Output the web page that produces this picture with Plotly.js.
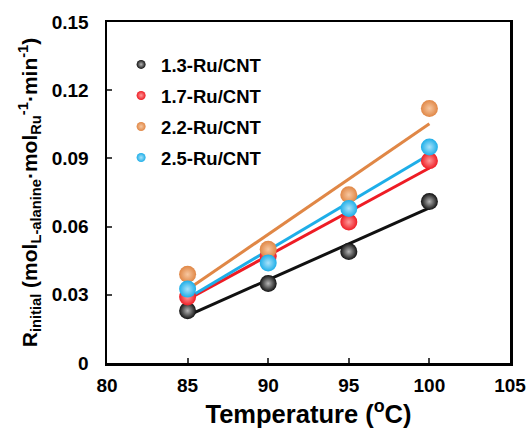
<!DOCTYPE html>
<html><head><meta charset="utf-8">
<script src="https://cdn.plot.ly/plotly-3.0.1.min.js"></script>
<style>html,body{margin:0;padding:0;background:#fff}#chart{width:531px;height:432px}</style>
</head><body><div id="chart"></div>
<script>
const temps = [85, 90, 95, 100];
const names = ["1.3-Ru/CNT", "1.7-Ru/CNT", "2.2-Ru/CNT", "2.5-Ru/CNT"];
const ru13 = [0.023, 0.035, 0.049, 0.071];
const ru17 = [0.029, 0.047, 0.062, 0.089];
const ru22 = [0.039, 0.050, 0.074, 0.112];
const ru25 = [0.0325, 0.044, 0.068, 0.095];
const fitX = [85, 100];
const fit13 = [0.0208, 0.0682];
const fit17 = [0.0280, 0.0858];
const fit22 = [0.0323, 0.1052];
const fit25 = [0.0285, 0.0917];
const xTicks = [80, 85, 90, 95, 100, 105];
const yTicks = [0, 0.03, 0.06, 0.09, 0.12, 0.15];
const yTickText = ["0", "0.03", "0.06", "0.09", "0.12", "0.15"];

const colors = ["#111111", "#ee1c24", "#e08746", "#1eaee8"];
const centers = ["#b5b5b5", "#ff9a9a", "#f7c7a0", "#a9e2fa"];
const series = [ru13, ru17, ru22, ru25];
const fits = [fit13, fit17, fit22, fit25];

const traces = [];
fits.forEach((f, i) => traces.push({
  x: fitX, y: f, mode: "lines", showlegend: false, hoverinfo: "skip",
  line: {color: colors[i], width: 3}
}));
series.forEach((s, i) => traces.push({
  x: temps, y: s, mode: "markers", showlegend: false,
  marker: {size: 17, color: colors[i], line: {width: 0},
           gradient: {type: "radial", color: centers[i]}}
}));
names.forEach((n, i) => traces.push({
  x: [null], y: [null], mode: "markers", name: n, legendgroup: "g" + i,
  marker: {size: 9, color: colors[i], line: {width: 0},
           gradient: {type: "radial", color: centers[i]}}
}));

const font = {family: "Arial, 'Liberation Sans', sans-serif", color: "#000", weight: "bold"};
const f = s => Object.assign({}, font, {size: s});
const layout = {
  width: 531, height: 432,
  margin: {l: 107, r: 21, t: 22, b: 69},
  paper_bgcolor: "#fff", plot_bgcolor: "#fff",
  font: f(19),
  showlegend: true,
  legend: {x: 0.035, y: 0.93, xanchor: "left", yanchor: "top",
           font: f(18.5), bgcolor: "rgba(0,0,0,0)", itemwidth: 30,
           tracegroupgap: 4, itemsizing: "trace"},
  xaxis: {range: [80, 105], tickvals: xTicks, ticks: "inside", ticklen: 5,
          tickwidth: 2, showline: true, linewidth: 2.5, linecolor: "#000", mirror: true,
          showgrid: false, zeroline: false, ticklabelstandoff: 4,
          tickfont: f(19),
          title: {text: "Temperature (<sup>o</sup>C)", font: f(25.5), standoff: 6}},
  yaxis: {range: [0, 0.15], tickvals: yTicks, ticktext: yTickText, ticks: "inside", ticklen: 5,
          tickwidth: 2, showline: true, linewidth: 2.5, linecolor: "#000", mirror: true,
          showgrid: false, zeroline: false, ticklabelstandoff: 12,
          tickfont: f(19),
          title: {text: "R<sub>initial</sub> (mol<sub>L-alanine</sub>·mol<sub>Ru</sub><sup>-1</sup>·min<sup>-1</sup>)",
                  font: f(21), standoff: 9}}
};
Plotly.newPlot("chart", traces, layout, {staticPlot: true, displayModeBar: false});
</script></body></html>
